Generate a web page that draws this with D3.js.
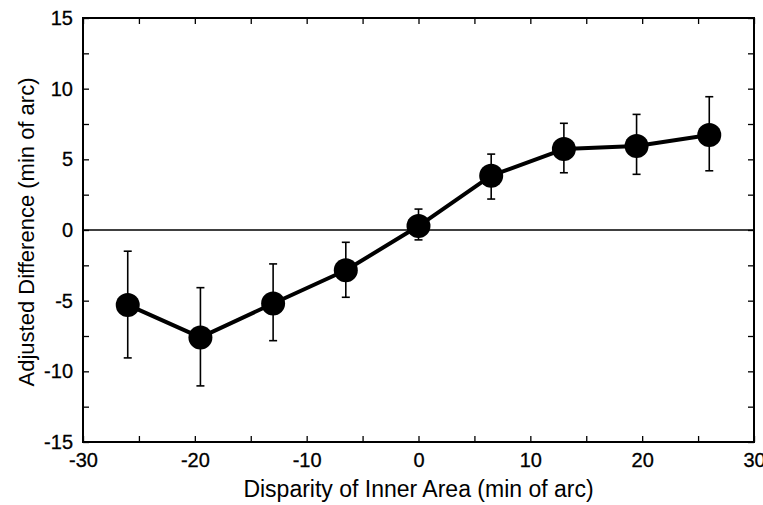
<!DOCTYPE html>
<html>
<head>
<meta charset="utf-8">
<script src="https://cdn.jsdelivr.net/npm/d3@7"></script>
<style>
  body { margin: 0; background: #fff; }
  text { font-family: "Liberation Sans", Arial, sans-serif; fill: #000; }
</style>
</head>
<body>
<div id="chart"></div>
<script>
const width = 763;
const height = 505;

// values
const disparity = [-26, -19.5, -13, -6.5, 0, 6.5, 13, 19.5, 26];
const adjDiff   = [-5.3, -7.6, -5.2, -2.85, 0.28, 3.84, 5.73, 5.94, 6.72];
const errTop    = [-1.5, -4.08, -2.4, -0.87, 1.48, 5.37, 7.55, 8.18, 9.43];
const errBottom = [-9.05, -11.03, -7.83, -4.76, -0.7, 2.19, 4.05, 3.94, 4.19];
const xTicks = [-30, -20, -10, 0, 10, 20, 30];
const yTicks = [-15, -10, -5, 0, 5, 10, 15];

const data = disparity.map((d, i) => ({
  x: d, y: adjDiff[i], hi: errTop[i], lo: errBottom[i]
}));

const margin = ({top: 18, right: 9, bottom: 63, left: 83});

const svg = d3.select("#chart").append("svg")
  .attr("width", width)
  .attr("height", height);

const x = d3.scaleLinear()
  .domain([-30, 30])
  .range([margin.left, width - margin.right]);

const y = d3.scaleLinear()
  .domain([-15, 15])
  .range([height - margin.bottom, margin.top]);

// plain hyphen like the original, not the unicode minus
const fmt = d => String(d);

// minor ticks on all four sides, pointing inward
const minorX = d3.range(-30, 30.1, 5);
const minorY = d3.range(-15, 15.1, 2.5);

svg.append("g")
    .attr("transform", `translate(0,${y(-15)})`)
    .call(d3.axisTop(x).tickValues(minorX).tickSize(6).tickFormat(""))
    .call(g => g.select(".domain").remove())
    .call(g => g.selectAll("line").attr("stroke-width", 1.3));

svg.append("g")
    .attr("transform", `translate(0,${y(15)})`)
    .call(d3.axisBottom(x).tickValues(minorX).tickSize(6).tickFormat(""))
    .call(g => g.select(".domain").remove())
    .call(g => g.selectAll("line").attr("stroke-width", 1.3));

svg.append("g")
    .attr("transform", `translate(${x(-30)},0)`)
    .call(d3.axisRight(y).tickValues(minorY).tickSize(6).tickFormat(""))
    .call(g => g.select(".domain").remove())
    .call(g => g.selectAll("line").attr("stroke-width", 1.3));

svg.append("g")
    .attr("transform", `translate(${x(30)},0)`)
    .call(d3.axisLeft(y).tickValues(minorY).tickSize(6).tickFormat(""))
    .call(g => g.select(".domain").remove())
    .call(g => g.selectAll("line").attr("stroke-width", 1.3));

// tick labels
const xAxis = g => g
  .attr("transform", `translate(0,${y(-15)})`)
  .call(d3.axisBottom(x).tickValues(xTicks).tickSize(0).tickPadding(11).tickFormat(fmt))
  .call(g => g.select(".domain").remove())
  .call(g => g.selectAll("text").attr("font-size", 20)
    .attr("stroke", "black").attr("stroke-width", 0.3));

const yAxis = g => g
  .attr("transform", `translate(${x(-30)},0)`)
  .call(d3.axisLeft(y).tickValues(yTicks).tickSize(0).tickPadding(10).tickFormat(fmt))
  .call(g => g.select(".domain").remove())
  .call(g => g.selectAll("text").attr("font-size", 20)
    .attr("stroke", "black").attr("stroke-width", 0.3));

svg.append("g").call(xAxis);
svg.append("g").call(yAxis);

// frame
svg.append("rect")
    .attr("x", x(-30))
    .attr("y", y(15))
    .attr("width", x(30) - x(-30))
    .attr("height", y(-15) - y(15))
    .attr("fill", "none")
    .attr("stroke", "black")
    .attr("stroke-width", 2);

// zero line
svg.append("line")
    .attr("x1", x(-30))
    .attr("x2", x(30))
    .attr("y1", y(0))
    .attr("y2", y(0))
    .attr("stroke", "black")
    .attr("stroke-width", 1.5);

// error bars
const bars = svg.append("g")
    .attr("stroke", "black")
    .attr("stroke-width", 1.6)
  .selectAll("g")
  .data(data)
  .join("g");

bars.append("line")
    .attr("x1", d => x(d.x)).attr("x2", d => x(d.x))
    .attr("y1", d => y(d.hi)).attr("y2", d => y(d.lo));
bars.append("line")
    .attr("x1", d => x(d.x) - 4).attr("x2", d => x(d.x) + 4)
    .attr("y1", d => y(d.hi)).attr("y2", d => y(d.hi));
bars.append("line")
    .attr("x1", d => x(d.x) - 4).attr("x2", d => x(d.x) + 4)
    .attr("y1", d => y(d.lo)).attr("y2", d => y(d.lo));

const line = d3.line()
  .x(d => x(d.x))
  .y(d => y(d.y));

svg.append("path")
    .datum(data)
    .attr("fill", "none")
    .attr("stroke", "black")
    .attr("stroke-width", 4)
    .attr("stroke-linejoin", "round")
    .attr("d", line);

svg.append("g")
  .selectAll("circle")
  .data(data)
  .join("circle")
    .attr("cx", d => x(d.x))
    .attr("cy", d => y(d.y))
    .attr("r", 12)
    .attr("fill", "black");

// axis titles
svg.append("text")
    .attr("x", x(0))
    .attr("y", 497)
    .attr("text-anchor", "middle")
    .attr("font-size", 23)
    .text("Disparity of Inner Area (min of arc)");

svg.append("text")
    .attr("transform", `translate(34,232) rotate(-90)`)
    .attr("text-anchor", "middle")
    .attr("font-size", 22)
    .text("Adjusted Difference (min of arc)");
</script>
</body>
</html>
